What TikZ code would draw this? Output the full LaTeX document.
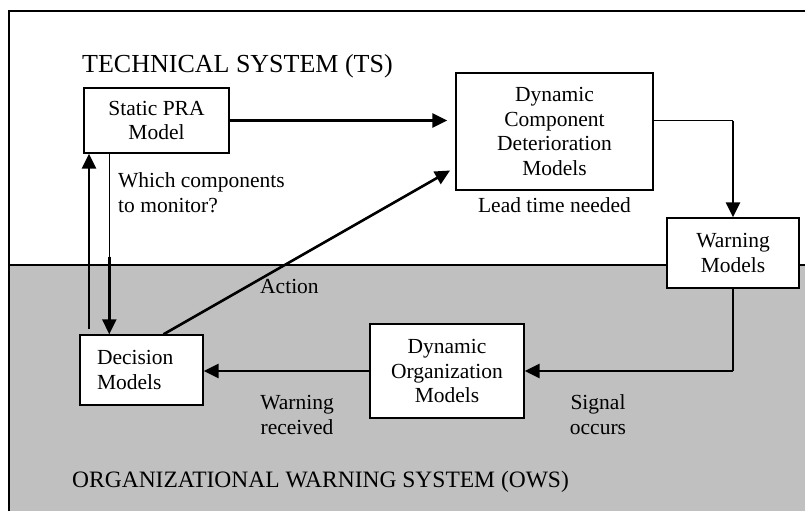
\documentclass[tikz,border=0pt]{standalone}
\usepackage{fontspec}
\setmainfont{Liberation Serif}
\usetikzlibrary{arrows.meta, positioning, calc}
\usepackage{xcolor}
\definecolor{panelgray}{RGB}{192,192,192}
\tikzset{modelbox/.style={draw=black, fill=white, line width=1.4pt, align=center, inner sep=0pt, font=\fontsize{21.5}{24.5}\selectfont},
    thickarrow/.style={line width=2.6pt, -{Triangle[length=15pt, width=14pt]}},
    thinline/.style={line width=1.4pt},
    notetext/.style={inner sep=0pt, font=\fontsize{21.5}{25}\selectfont},
    titletext/.style={inner sep=0pt, anchor=base west}}

\begin{document}
\begin{tikzpicture}[x=1pt, y=-1pt]
        \useasboundingbox (0,0) rectangle (805,511);
        % Panels
        \fill[panelgray] (9,265) rectangle (805,511);
        \draw[thinline] (9,265) -- (805,265);
        \draw[line width=1.8pt] (9,511) -- (9,11) -- (805,11);
        % Titles
        \node[titletext, font=\fontsize{26}{30}\selectfont] (tstitle) at (82,72) {TECHNICAL SYSTEM (TS)};
        \node[titletext, font=\fontsize{23.5}{28}\selectfont] (owstitle) at (72,487) {ORGANIZATIONAL WARNING SYSTEM (OWS)};
        % Models
        \node[modelbox, minimum width=145pt, minimum height=65pt] (static) at (156.5,120.5) {Static PRA\\Model};
        \node[modelbox, minimum width=197pt, minimum height=117pt] (dcd) at (554.5,131.5) {Dynamic\\Component\\Deterioration\\Models};
        \node[modelbox, minimum width=132pt, minimum height=70pt] (warn) at (733,253) {Warning\\Models};
        \node[modelbox, align=left, text width=89pt, inner xsep=17pt, minimum height=70pt] (dec) at (141.5,370) {Decision\\Models};
        \node[modelbox, minimum width=154pt, minimum height=94pt] (dorg) at (447,371) {Dynamic\\Organization\\Models};
        % Connectors
        \draw[thickarrow, shorten >=8pt] (static.east) -- (static.east -| dcd.west);
        \draw[thinline] (static.east -| dcd.east) -- (static.east -| warn.north);
        \draw[thickarrow] (static.east -| warn.north) -- (warn.north);
        \draw[thinline] (warn.south) -- (warn.south |- dorg.east);
        \draw[thickarrow] (warn.south |- dorg.east) -- (dorg.east);
        \draw[thickarrow] (dorg.west) -- (dorg.west -| dec.east);
        \coordinate (upfoot) at (89,329);
        \draw[thickarrow] (upfoot) -- (upfoot |- static.south);
        \coordinate (downtop) at ($(static.south west)+(26,0)$);
        \coordinate (downmid) at ($(downtop)+(0,103)$);
        \draw[thinline] (downtop) -- (downmid);
        \draw[thickarrow] (downmid) -- (downmid |- dec.north);
        \draw[thickarrow, shorten >=6pt] ($(dec.north)+(22,0)$) -- ($(dcd.west)+(0,36)$);
        % Labels
        \node[notetext, anchor=base west, align=left] (monitor) at (118,212) {Which components\\to monitor?};
        \node[notetext, below=7pt of dcd] (leadtime) {Lead time needed};
        \node[notetext, anchor=base west] (action) at (260,293) {Action};
        \node[notetext, anchor=base, align=center] (received) at (297,434) {Warning\\received};
        \node[notetext, anchor=base, align=center] (occurs) at (598,434) {Signal\\occurs};
\end{tikzpicture}
\end{document}
